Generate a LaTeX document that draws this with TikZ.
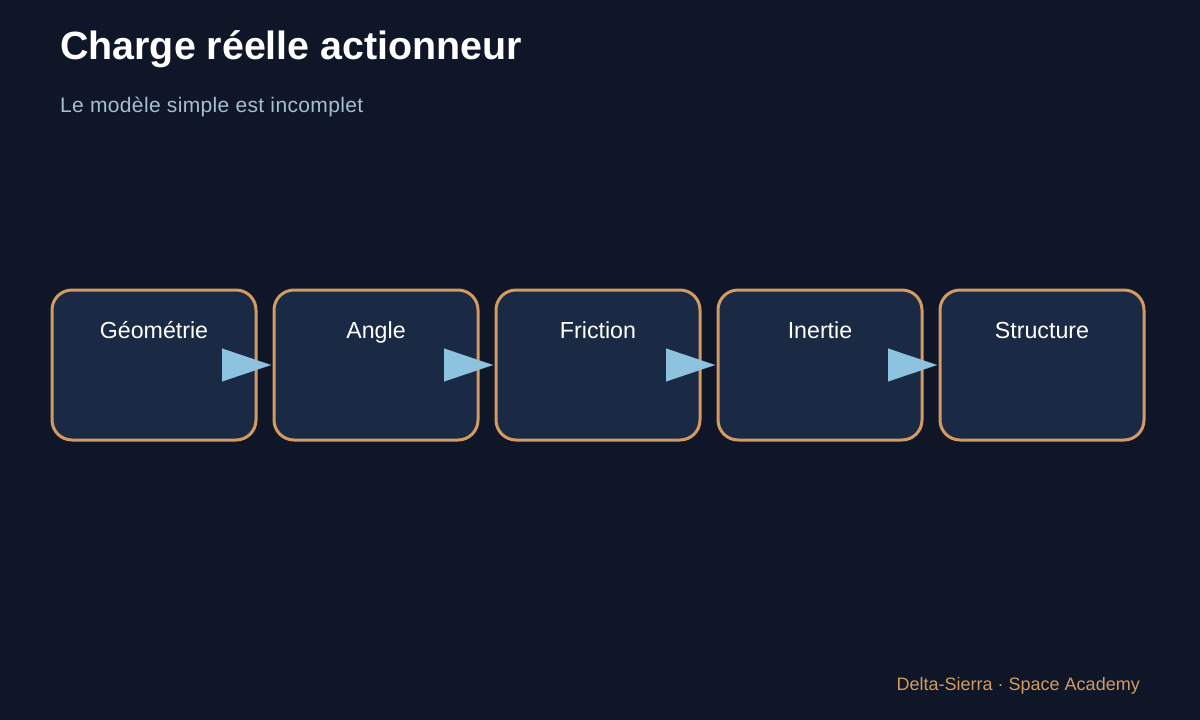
\documentclass[tikz,border=0pt]{standalone}
\usepackage{fontspec}
\setmainfont{Liberation Sans}
\usetikzlibrary{arrows.meta}
\definecolor{bgc}{HTML}{0E1628}
\definecolor{boxfill}{HTML}{1A2A44}
\definecolor{boxline}{HTML}{D39A62}
\definecolor{arrowc}{HTML}{8EC3E0}
\definecolor{subc}{HTML}{A9BDD3}
\definecolor{footc}{HTML}{D39A62}
\tikzset{
  stagebox/.style={draw=boxline, line width=3pt, fill=boxfill, rounded corners=20pt,
    minimum width=204pt, minimum height=150pt, inner sep=0pt, outer sep=0pt, anchor=north west},
  stagelabel/.style={text=white, font=\fontsize{23.2pt}{27pt}\selectfont, anchor=base, inner sep=0pt},
  flowarrow/.style={draw=arrowc, line width=0.1pt, -{Triangle[length=49pt,width=33pt,fill=arrowc]}},
}
\begin{document}
\begin{tikzpicture}[x=1pt,y=-1pt]
\fill[bgc] (0,0) rectangle (1200,720);
\useasboundingbox (0,0) rectangle (1200,720);
\node[anchor=base west, text=white, inner sep=0pt, font=\fontsize{39.4pt}{44pt}\selectfont\bfseries] (title) at (60,59) {Charge réelle actionneur};
\node[anchor=base west, text=subc, inner sep=0pt, font=\fontsize{21pt}{25pt}\selectfont\addfontfeatures{LetterSpace=1.7}] (subtitle) at (60,112) {Le modèle simple est incomplet};
\foreach \i/\x/\t in {1/52/Géométrie,2/274/Angle,3/496/Friction,4/718/Inertie,5/940/Structure}{
  \node[stagebox] (b\i) at (\x,290) {};
  \node[stagelabel] (l\i) at (\x+102,338) {\t};
}
\foreach \i [evaluate=\i as \j using int(\i+1)] in {1,2,3,4}{
  \coordinate (s\i) at (b\i.east);
  \coordinate (e\i) at ([xshift=-3pt]b\j.west);
  \draw[flowarrow] (s\i) -- (e\i);
}
\node[anchor=base east, text=footc, inner sep=0pt, font=\fontsize{18pt}{22pt}\selectfont] (footer) at (1140,690) {Delta-Sierra · Space Academy};
\end{tikzpicture}
\end{document}
